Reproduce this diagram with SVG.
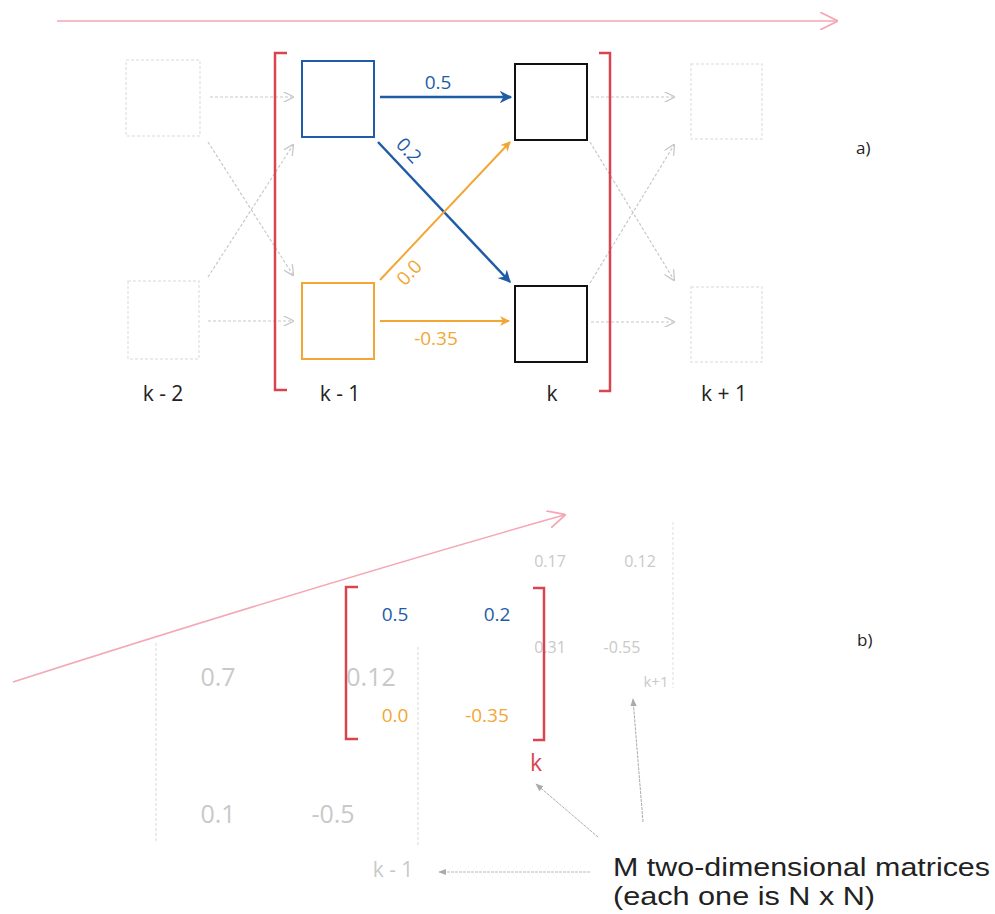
<svg xmlns="http://www.w3.org/2000/svg" width="995" height="914" viewBox="0 0 995 914">
<defs>
<style>
text{font-family:"Open Sans","Noto Sans","Liberation Sans",sans-serif}
.blue{fill:#1f5ca8}
.orange{fill:#f2a735}
.lbl{font-size:21px;fill:#222}
.faintbox{fill:none;stroke:#e6e6e6;stroke-width:1.5;stroke-dasharray:3 2}
.faintline{stroke:#c8c8c8;stroke-width:1.2;stroke-dasharray:3 2;fill:none}
.faintt{fill:#c9c9c9}
.bracket{fill:none;stroke:#d9454f;stroke-width:2.5}
.cap{font-family:"Liberation Sans","Open Sans",sans-serif;font-size:25px;fill:#222}
</style>
<marker id="mblue" viewBox="0 0 10 10" refX="9" refY="5" markerWidth="5" markerHeight="5" orient="auto" markerUnits="strokeWidth"><path d="M0,0 L10,5 L0,10 L3,5 Z" fill="#1f5ca8"/></marker>
<marker id="morange" viewBox="0 0 10 10" refX="9" refY="5" markerWidth="5" markerHeight="5" orient="auto" markerUnits="strokeWidth"><path d="M0,0 L10,5 L0,10 L3,5 Z" fill="#f2a735"/></marker>
<marker id="mgray" viewBox="0 0 10 10" refX="9" refY="5" markerWidth="9" markerHeight="9" orient="auto" markerUnits="strokeWidth"><path d="M0,0 L10,5 L0,10" fill="none" stroke="#c8c8c8" stroke-width="1.2"/></marker>
<marker id="mgray2" viewBox="0 0 10 10" refX="9" refY="5" markerWidth="8" markerHeight="8" orient="auto" markerUnits="strokeWidth"><path d="M0,1 L10,5 L0,9 Z" fill="#aaa"/></marker>
<marker id="mpink" viewBox="0 0 10 10" refX="9" refY="5" markerWidth="12" markerHeight="12" orient="auto" markerUnits="strokeWidth"><path d="M0,0 L10,5 L0,10" fill="none" stroke="#f4a7b5" stroke-width="1"/></marker>
</defs>

<g id="connectors">
<line x1="57" y1="21" x2="836" y2="21" stroke="#f4a7b5" stroke-width="1.5" marker-end="url(#mpink)"/>
<line x1="210" y1="97" x2="293" y2="97" class="faintline" marker-end="url(#mgray)"/>
<line x1="208" y1="142" x2="293" y2="275" class="faintline" marker-end="url(#mgray)"/>
<line x1="208" y1="277" x2="293" y2="145" class="faintline" marker-end="url(#mgray)"/>
<line x1="208" y1="321" x2="293" y2="321" class="faintline" marker-end="url(#mgray)"/>
<line x1="591" y1="97" x2="674" y2="97" class="faintline" marker-end="url(#mgray)"/>
<line x1="590" y1="142" x2="674" y2="280" class="faintline" marker-end="url(#mgray)"/>
<line x1="590" y1="283" x2="674" y2="145" class="faintline" marker-end="url(#mgray)"/>
<line x1="591" y1="322" x2="674" y2="322" class="faintline" marker-end="url(#mgray)"/>
<line x1="380" y1="97" x2="511" y2="97" stroke="#1f5ca8" stroke-width="2.5" marker-end="url(#mblue)"/>
<line x1="378" y1="142" x2="510" y2="282" stroke="#1f5ca8" stroke-width="2.5" marker-end="url(#mblue)"/>
<line x1="380" y1="280" x2="510" y2="142" stroke="#f2a735" stroke-width="2" marker-end="url(#morange)"/>
<line x1="380" y1="321" x2="509" y2="321" stroke="#f2a735" stroke-width="2" marker-end="url(#morange)"/>
<path d="M13,682 Q300,590 564,515" fill="none" stroke="#f4a7b5" stroke-width="1.5" marker-end="url(#mpink)"/>
<line x1="598" y1="837" x2="536" y2="784" stroke="#aaa" stroke-width="1" stroke-dasharray="3 1" marker-end="url(#mgray2)"/>
<line x1="643" y1="822" x2="633" y2="699" stroke="#aaa" stroke-width="1" stroke-dasharray="3 1" marker-end="url(#mgray2)"/>
<line x1="590" y1="872" x2="439" y2="872" stroke="#bbb" stroke-width="1" stroke-dasharray="3 1" marker-end="url(#mgray2)"/>
</g>

<g id="layer-km2">
<rect x="126" y="60" width="74" height="76" class="faintbox"/>
<rect x="128" y="281" width="71" height="78" class="faintbox"/>
<text x="163" y="401" text-anchor="middle" class="lbl">k - 2</text>
</g>
<g id="layer-km1">
<rect x="302" y="61" width="72" height="76" fill="none" stroke="#1f5ca8" stroke-width="2"/>
<rect x="302" y="283" width="72" height="76" fill="none" stroke="#f2a735" stroke-width="2"/>
<text x="340" y="401" text-anchor="middle" class="lbl">k - 1</text>
</g>
<g id="layer-k">
<rect x="515" y="64" width="72" height="76" fill="none" stroke="#111" stroke-width="2"/>
<rect x="515" y="286" width="72" height="76" fill="none" stroke="#111" stroke-width="2"/>
<text x="552" y="401" text-anchor="middle" class="lbl">k</text>
</g>
<g id="layer-kp1">
<rect x="691" y="64" width="71" height="75" class="faintbox"/>
<rect x="691" y="287" width="71" height="75" class="faintbox"/>
<text x="724" y="401" text-anchor="middle" class="lbl">k + 1</text>
</g>
<g id="bracket-a">
<path d="M287,53 H275 V390 H287" class="bracket"/>
<path d="M599,53 H610 V391 H599" class="bracket"/>
</g>
<g id="weights-a">
<text x="438" y="89" text-anchor="middle" class="blue" font-size="19">0.5</text>
<text x="0" y="0" text-anchor="middle" class="blue" font-size="19" transform="translate(404,155) rotate(47)">0.2</text>
<text x="0" y="0" text-anchor="middle" class="orange" font-size="19" transform="translate(414,277) rotate(-47)">0.0</text>
<text x="436" y="345" text-anchor="middle" class="orange" font-size="19">-0.35</text>
</g>
<text x="856" y="154" font-size="17" fill="#222">a)</text>

<g id="matrix-km1">
<path d="M156,643 V843" stroke="#ececec" stroke-width="2" fill="none" stroke-dasharray="3 2"/>
<path d="M418,647 V845" stroke="#ececec" stroke-width="2" fill="none" stroke-dasharray="3 2"/>
<text x="218" y="686" text-anchor="middle" font-size="25" class="faintt">0.7</text>
<text x="371" y="686" text-anchor="middle" font-size="25" class="faintt">0.12</text>
<text x="218" y="823" text-anchor="middle" font-size="25" class="faintt">0.1</text>
<text x="333" y="823" text-anchor="middle" font-size="25" class="faintt">-0.5</text>
<text x="393" y="877" text-anchor="middle" font-size="21" class="faintt">k - 1</text>
</g>
<g id="matrix-kp1">
<path d="M673,522 V688" stroke="#efefef" stroke-width="2" fill="none" stroke-dasharray="3 2"/>
<text x="550" y="567" text-anchor="middle" font-size="16" class="faintt">0.17</text>
<text x="640" y="567" text-anchor="middle" font-size="16" class="faintt">0.12</text>
<text x="550" y="653" text-anchor="middle" font-size="16" class="faintt">0.31</text>
<text x="622" y="653" text-anchor="middle" font-size="16" class="faintt">-0.55</text>
<text x="656" y="687" text-anchor="middle" font-size="15" class="faintt">k+1</text>
</g>
<g id="matrix-k">
<path d="M358,587 H346 V739 H358" class="bracket"/>
<path d="M533,588 H544 V740 H533" class="bracket"/>
<text x="395" y="621" text-anchor="middle" class="blue" font-size="19">0.5</text>
<text x="497" y="621" text-anchor="middle" class="blue" font-size="19">0.2</text>
<text x="395" y="722" text-anchor="middle" class="orange" font-size="19">0.0</text>
<text x="487" y="722" text-anchor="middle" class="orange" font-size="19">-0.35</text>
<text x="536" y="771" text-anchor="middle" font-size="23" fill="#d9454f">k</text>
</g>
<text x="857" y="646" font-size="17" fill="#222">b)</text>
<g id="caption">
<text x="613" y="876" class="cap" textLength="377" lengthAdjust="spacingAndGlyphs">M two-dimensional matrices</text>
<text x="613" y="905" class="cap" textLength="262" lengthAdjust="spacingAndGlyphs">(each one is N x N)</text>
</g>
</svg>
